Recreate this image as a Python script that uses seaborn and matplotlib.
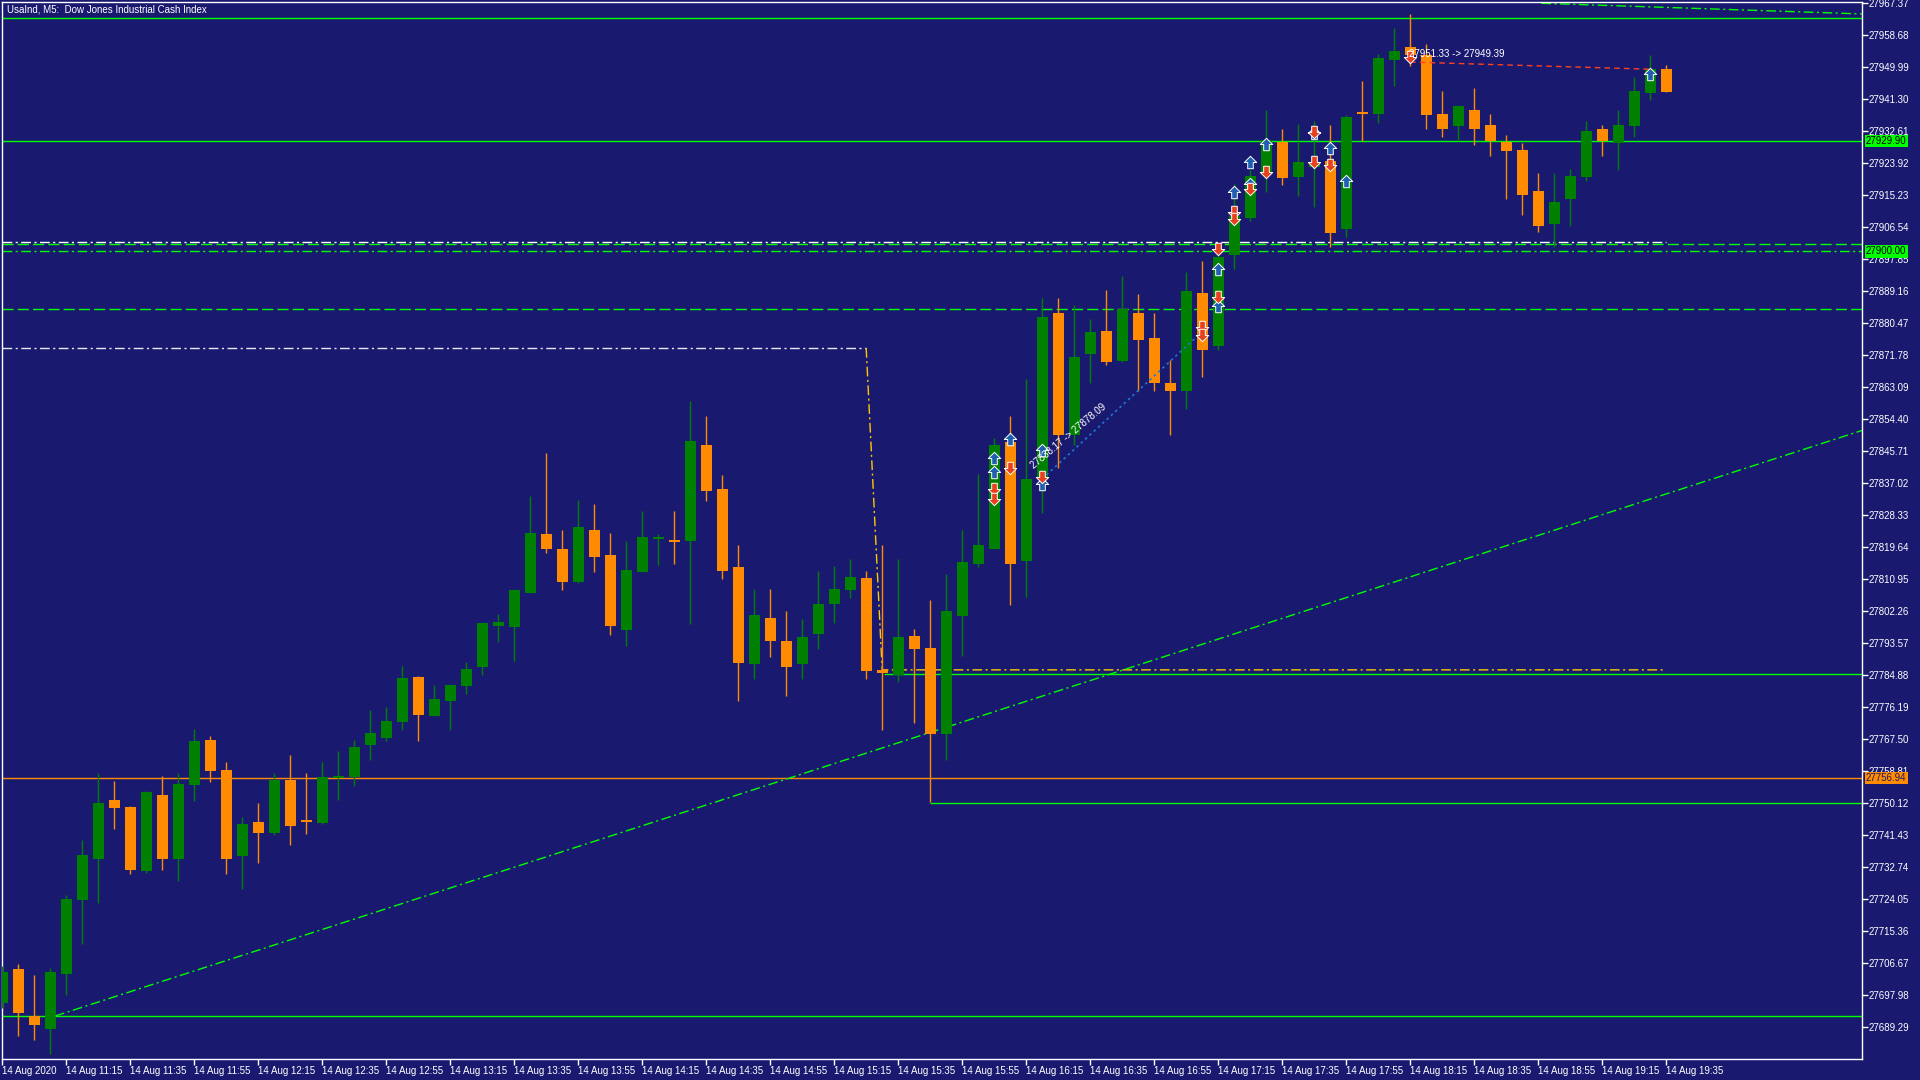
import numpy as np
import pandas as pd
import matplotlib
matplotlib.use('Agg')
import matplotlib.pyplot as plt
import matplotlib.transforms as mtransforms
from matplotlib.path import Path
import seaborn as sns

# --- candles, M5 bars from 10:55 to 19:35 ---
bar_open = [27695.9, 27705.1, 27692.3, 27688.8, 27703.7, 27723.8, 27734.9, 27751.0, 27749.1, 27731.7,
            27752.3, 27734.9, 27755.0, 27767.2, 27759.1, 27735.8, 27745.0, 27742.0, 27756.4, 27745.3,
            27744.7, 27756.9, 27757.2, 27765.9, 27767.8, 27772.2, 27784.4, 27773.9, 27777.9, 27782.0,
            27787.2, 27798.3, 27798.0, 27807.3, 27823.2, 27819.1, 27810.2, 27824.3, 27817.5, 27797.2,
            27813.0, 27821.9, 27821.3, 27821.4, 27847.4, 27835.4, 27814.2, 27788.0, 27800.4, 27794.1,
            27788.0, 27796.1, 27804.3, 27808.1, 27811.2, 27786.3, 27785.0, 27795.5, 27792.2, 27769.0,
            27801.0, 27815.1, 27819.2, 27848.2, 27815.9, 27838.4, 27883.2, 27850.1, 27872.1, 27878.3,
            27870.2, 27883.2, 27876.4, 27864.2, 27862.1, 27888.6, 27874.3, 27899.0, 27909.1, 27921.3,
            27929.7, 27920.2, 27922.9, 27924.5, 27906.1, 27937.4, 27937.3, 27951.9, 27955.4, 27953.2,
            27937.2, 27934.0, 27938.3, 27934.2, 27929.7, 27927.5, 27916.3, 27907.4, 27914.2, 27920.2,
            27933.2, 27929.4, 27934.0, 27943.0, 27949.4]
bar_high = [27706.0, 27706.4, 27703.5, 27705.4, 27725.2, 27740.1, 27758.3, 27756.1, 27749.3, 27753.3,
            27757.5, 27758.3, 27770.2, 27768.3, 27761.3, 27746.4, 27750.1, 27758.3, 27763.2, 27758.3,
            27761.3, 27764.3, 27767.2, 27775.4, 27776.2, 27787.3, 27784.6, 27782.2, 27782.5, 27788.4,
            27799.1, 27801.5, 27808.3, 27833.5, 27845.2, 27824.3, 27832.4, 27831.3, 27823.5, 27821.3,
            27829.4, 27823.2, 27829.4, 27859.3, 27855.3, 27839.2, 27820.2, 27808.3, 27808.3, 27802.3,
            27800.1, 27813.1, 27814.5, 27816.4, 27813.1, 27820.2, 27816.4, 27797.4, 27805.3, 27812.3,
            27824.3, 27839.5, 27849.3, 27855.3, 27865.3, 27887.3, 27887.3, 27885.4, 27881.6, 27889.4,
            27893.2, 27888.4, 27883.2, 27870.4, 27894.3, 27897.3, 27901.4, 27918.1, 27922.0, 27938.3,
            27933.1, 27934.5, 27935.3, 27934.2, 27937.0, 27946.2, 27953.5, 27960.6, 27964.4, 27956.2,
            27943.5, 27939.6, 27944.3, 27937.2, 27931.5, 27929.4, 27921.2, 27921.2, 27922.3, 27935.3,
            27934.2, 27938.3, 27947.3, 27953.2, 27950.5]
bar_low = [27694.5, 27687.0, 27685.8, 27682.0, 27698.0, 27711.9, 27723.0, 27743.1, 27731.0, 27731.2,
           27732.0, 27729.0, 27750.7, 27755.9, 27730.9, 27726.8, 27733.9, 27741.5, 27738.7, 27741.7,
           27744.5, 27751.0, 27754.8, 27761.8, 27767.0, 27770.0, 27767.1, 27773.7, 27770.0, 27779.8,
           27785.0, 27793.9, 27788.8, 27807.2, 27818.1, 27808.1, 27810.0, 27813.0, 27795.8, 27792.9,
           27812.8, 27814.9, 27815.1, 27798.8, 27832.2, 27811.0, 27777.9, 27783.9, 27789.9, 27779.3,
           27783.9, 27792.0, 27799.1, 27805.9, 27783.9, 27770.0, 27783.1, 27772.0, 27750.5, 27761.9,
           27790.1, 27814.3, 27819.0, 27804.0, 27806.1, 27829.0, 27841.1, 27847.4, 27864.3, 27869.1,
           27870.0, 27862.1, 27862.1, 27850.1, 27857.0, 27865.9, 27873.2, 27895.2, 27908.3, 27916.1,
           27918.0, 27915.0, 27912.1, 27901.2, 27903.9, 27929.9, 27934.9, 27944.9, 27950.3, 27933.2,
           27931.1, 27929.9, 27928.9, 27925.9, 27914.2, 27909.9, 27905.3, 27901.2, 27906.9, 27919.1,
           27925.9, 27922.1, 27931.1, 27941.1, 27943.2]
bar_close = [27704.3, 27693.2, 27689.9, 27704.3, 27724.1, 27736.0, 27750.1, 27748.8, 27732.0, 27753.1,
             27734.9, 27755.3, 27767.0, 27758.8, 27734.9, 27744.4, 27742.0, 27756.4, 27743.9, 27745.1,
             27757.2, 27757.5, 27765.3, 27769.1, 27772.4, 27784.1, 27774.1, 27778.4, 27782.2, 27786.5,
             27799.0, 27799.3, 27808.0, 27823.5, 27819.2, 27810.2, 27825.1, 27817.0, 27798.3, 27813.4,
             27822.4, 27822.4, 27821.1, 27848.4, 27835.0, 27813.2, 27788.2, 27801.2, 27794.2, 27787.2,
             27795.2, 27804.2, 27808.3, 27811.5, 27786.1, 27785.5, 27795.2, 27792.0, 27769.0, 27802.3,
             27815.6, 27820.2, 27847.4, 27815.1, 27838.1, 27882.1, 27850.1, 27871.3, 27878.0, 27870.0,
             27884.3, 27875.9, 27864.3, 27862.1, 27889.2, 27873.2, 27898.4, 27909.5, 27920.4, 27930.2,
             27919.9, 27924.2, 27924.2, 27905.0, 27936.4, 27937.2, 27952.4, 27954.3, 27953.2, 27936.9,
             27933.2, 27939.4, 27933.2, 27930.0, 27927.3, 27915.3, 27906.9, 27913.3, 27920.4, 27932.6,
             27929.9, 27934.2, 27943.5, 27949.4, 27943.3]

time_labels = ['14 Aug 2020', '14 Aug 11:15', '14 Aug 11:35', '14 Aug 11:55', '14 Aug 12:15',
               '14 Aug 12:35', '14 Aug 12:55', '14 Aug 13:15', '14 Aug 13:35', '14 Aug 13:55',
               '14 Aug 14:15', '14 Aug 14:35', '14 Aug 14:55', '14 Aug 15:15', '14 Aug 15:35',
               '14 Aug 15:55', '14 Aug 16:15', '14 Aug 16:35', '14 Aug 16:55', '14 Aug 17:15',
               '14 Aug 17:35', '14 Aug 17:55', '14 Aug 18:15', '14 Aug 18:35', '14 Aug 18:55',
               '14 Aug 19:15', '14 Aug 19:35']
price_ticks = [27967.37, 27958.68, 27949.99, 27941.30, 27932.61, 27923.92, 27915.23, 27906.54,
               27897.85, 27889.16, 27880.47, 27871.78, 27863.09, 27854.40, 27845.71, 27837.02,
               27828.33, 27819.64, 27810.95, 27802.26, 27793.57, 27784.88, 27776.19, 27767.50,
               27758.81, 27750.12, 27741.43, 27732.74, 27724.05, 27715.36, 27706.67, 27697.98,
               27689.29]

# trade arrows (bar, price)
buy_bar = [62, 62, 63, 65, 65, 76, 76, 77, 78, 78, 79, 82, 83, 84, 103]
buy_price = [27843.8, 27840.0, 27849.0, 27846.0, 27836.9, 27895.2, 27885.2, 27916.1, 27924.3,
             27918.2, 27929.1, 27932.0, 27928.1, 27919.0, 27948.1]
sell_bar = [62, 62, 63, 65, 75, 75, 76, 76, 77, 77, 78, 79, 82, 82, 83, 88]
sell_price = [27835.5, 27832.6, 27841.2, 27838.7, 27879.5, 27877.2, 27900.5, 27887.6, 27910.7,
              27908.6, 27916.8, 27921.6, 27932.4, 27924.3, 27923.4, 27952.6]

# horizontal levels
full_levels = [27963.2, 27692.2]
level_bid = 27929.90
level_round = 27900.00
level_ask = 27756.94
level_dash_a = 27902.0
level_dash_b = 27884.2
level_white = 27902.4
level_low = 27750.2
level_mid = 27785.3

# anchored lines (bar, price)
trend_bars = [3.3, 116.24]
trend_prices = [27692.3, 27851.3]
top_trend_bars = [96.2, 116.24]
top_trend_prices = [27967.3, 27964.4]
yellow_bars = [54.0, 55.0, 104.0]
yellow_prices = [27873.7, 27786.3, 27786.3]
trade1_bars = [65, 75]
trade1_prices = [27838.17, 27878.09]
trade2_bars = [88, 103]
trade2_prices = [27951.33, 27949.39]

BG = '#191970'
UP = '#008000'
DOWN = '#FF8C00'
LIME = '#00FF00'

sns.set_style('dark', rc={'axes.facecolor': BG, 'figure.facecolor': BG,
                          'axes.edgecolor': 'white', 'xtick.color': 'white',
                          'ytick.color': 'white', 'text.color': 'white'})
plt.rcParams['font.family'] = ['Liberation Sans', 'DejaVu Sans']

df = pd.DataFrame({'open': bar_open, 'high': bar_high, 'low': bar_low, 'close': bar_close})
df['bar'] = np.arange(len(df))
df['bull'] = df['close'] >= df['open']
df['bottom'] = df[['open', 'close']].min(axis=1)
df['body'] = (df['close'] - df['open']).abs().clip(lower=0.45)
colors = np.where(df['bull'], UP, DOWN)

fig = plt.figure(figsize=(19.2, 10.8), dpi=100)
ax = fig.add_axes([2 / 1920, 21 / 1080, 1860 / 1920, 1057 / 1080])
ax.set_xlim(-0.0125, 116.24)
ax.set_ylim(27680.64, 27967.64)

dash_dot = (0, (7, 2.5, 1.5, 2.5))
long_dash = (0, (8, 3))

# levels
for lv in full_levels:
    ax.axhline(lv, color=LIME, lw=1.0, zorder=1)
ax.axhline(level_bid, color=LIME, lw=1.0, zorder=1)
ax.axhline(level_dash_a, color=LIME, lw=1.0, ls=long_dash, zorder=1)
ax.axhline(level_round, color=LIME, lw=1.0, ls=dash_dot, zorder=1)
ax.axhline(level_dash_b, color=LIME, lw=1.0, ls=long_dash, zorder=1)
ax.axhline(level_ask, color=DOWN, lw=1.0, zorder=1)
ax.hlines(level_white, 0, 104, color='white', lw=1.0, ls=dash_dot, zorder=1)
ax.hlines(yellow_prices[0], 0, yellow_bars[0], color='#E8E8F0', lw=1.0, ls=dash_dot, zorder=1)
ax.plot(yellow_bars, yellow_prices, color='#FFC800', lw=1.0, ls=dash_dot, zorder=1)
ax.hlines(level_mid, 55.1, 116.3, color=LIME, lw=1.0, zorder=1)
ax.hlines(level_low, 58, 116.3, color=LIME, lw=1.0, zorder=1)
ax.plot(trend_bars, trend_prices, color=LIME, lw=1.0, ls=dash_dot, zorder=1)
ax.plot(top_trend_bars, top_trend_prices, color=LIME, lw=1.0, ls=dash_dot, zorder=1)

# candles
ax.vlines(df['bar'], df['low'], df['high'], colors=colors, lw=1.0, zorder=3)
ax.bar(df['bar'], df['body'], bottom=df['bottom'], width=0.69, color=colors,
       linewidth=0, zorder=4)

# trade lines
ax.plot(trade1_bars, trade1_prices, color='#1E78D2', lw=1.2, ls=(0, (1.5, 2)), zorder=5)
ax.plot(trade2_bars, trade2_prices, color='#FF4020', lw=1.0, ls=(0, (4, 3)), zorder=5)
ax.text(64.6, 27840.3, '27838.17 -> 27878.09', rotation=40, rotation_mode='anchor',
        ha='left', va='bottom', fontsize=7, color='white', zorder=7)
ax.text(87.9, 27953.5, '27951.33 -> 27949.39', ha='left', va='center',
        fontsize=7, color='white', zorder=7)

# arrows
up_path = Path([(0, 1), (1, 0), (0.45, 0), (0.45, -1), (-0.45, -1), (-0.45, 0), (-1, 0), (0, 1)],
               [Path.MOVETO] + [Path.LINETO] * 6 + [Path.CLOSEPOLY])
down_path = Path([(0, -1), (1, 0), (0.45, 0), (0.45, 1), (-0.45, 1), (-0.45, 0), (-1, 0), (0, -1)],
                 [Path.MOVETO] + [Path.LINETO] * 6 + [Path.CLOSEPOLY])
sns.scatterplot(x=buy_bar, y=buy_price, marker=up_path, s=80, color='#1F5FAF',
                edgecolor='white', linewidth=0.7, zorder=6, ax=ax)
sns.scatterplot(x=sell_bar, y=sell_price, marker=down_path, s=80, color='#E8401C',
                edgecolor='white', linewidth=0.7, zorder=6, ax=ax)

# axes styling
for side in ['left', 'top', 'right', 'bottom']:
    ax.spines[side].set_color('white')
    ax.spines[side].set_linewidth(1.0)
ax.grid(False)
ax.yaxis.tick_right()
ax.set_yticks(price_ticks)
ax.set_yticklabels(['%.2f' % p for p in price_ticks])
ax.set_xticks(np.arange(0, len(df), 4))
ax.set_xticklabels(time_labels, ha='left')
ax.tick_params(axis='y', direction='out', length=4, width=1, pad=1, labelsize=7,
               colors='white', right=True, left=False)
ax.tick_params(axis='x', direction='out', length=4, width=1, pad=1, labelsize=7,
               colors='white', bottom=True)
ax.set_xlabel('')
ax.set_ylabel('')

# price tags on the scale
tag = mtransforms.blended_transform_factory(ax.transAxes, ax.transData)
for val, fc, tc in [(level_bid, LIME, 'black'), (level_round, LIME, 'black'),
                    (level_ask, DOWN, BG)]:
    ax.text(1.0 + 4 / 1860, val, '%.2f' % val, transform=tag, ha='left', va='center',
            fontsize=7, color=tc, zorder=10, clip_on=False,
            bbox=dict(boxstyle='square,pad=0.15', fc=fc, ec='none'))

ax.text(5 / 1860, 1 - 7 / 1057, 'UsaInd, M5:  Dow Jones Industrial Cash Index',
        transform=ax.transAxes, ha='left', va='center', fontsize=7, color='white', zorder=10)

fig.savefig('out.png', dpi=100, facecolor=BG)
